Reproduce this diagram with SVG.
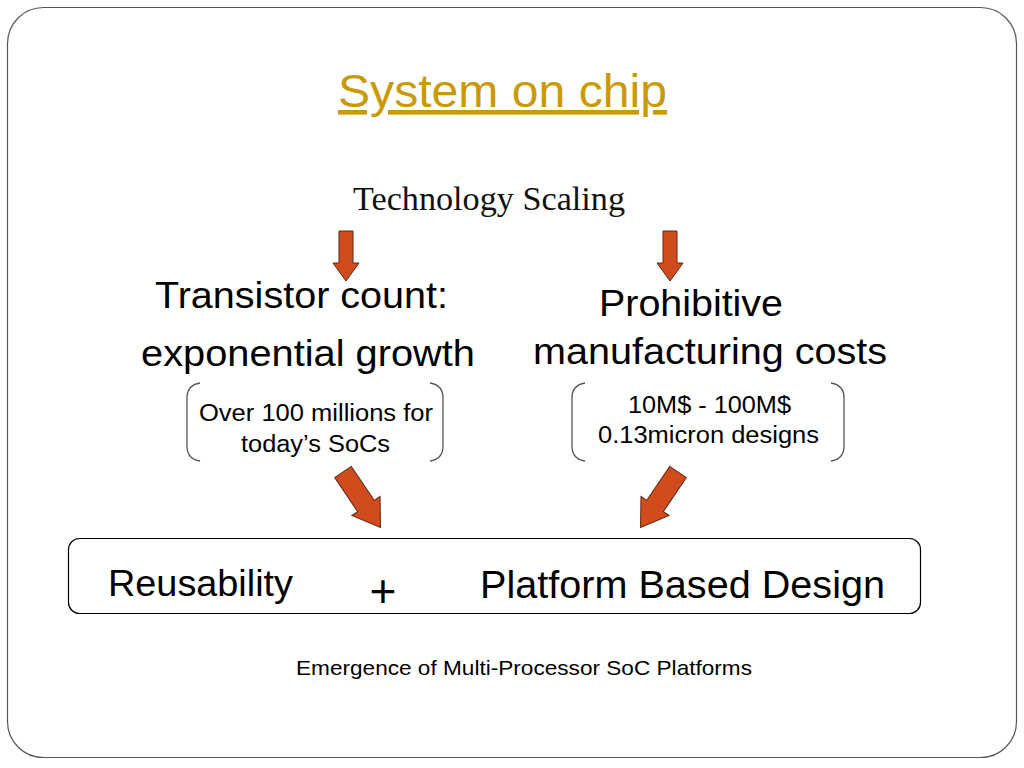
<svg xmlns="http://www.w3.org/2000/svg" width="1024" height="768" viewBox="0 0 1024 768">
<style>
.s{font-family:"Liberation Sans",Arial,sans-serif;fill:#000}
.arr{fill:#D24B1C;stroke:#5A2A12;stroke-width:1}
.br{fill:none;stroke:#555;stroke-width:1.3}
</style>
<defs>
<path id="down" d="M -7 0 H 7 V 32 H 13 L 0 50 L -13 32 H -7 Z"/>
<path id="diag" d="M -10 0 H 10 V 41 H 17 L 0 67 L -17 41 H -10 Z"/>
</defs>
<rect x="0" y="0" width="1024" height="768" fill="#fff"/>
<rect x="7.5" y="7.5" width="1009" height="750" rx="36" fill="none" stroke="#555" stroke-width="1.2"/>
<g id="title">
<text x="502.5" y="107" text-anchor="middle" font-family="Liberation Sans, Arial, sans-serif" font-size="46" fill="#C99A06" text-decoration="underline" textLength="329" lengthAdjust="spacingAndGlyphs">System on chip</text>
</g>
<g id="tech">
<text x="489" y="210" text-anchor="middle" font-family="Liberation Serif, serif" font-size="33" fill="#111" textLength="272" lengthAdjust="spacingAndGlyphs">Technology Scaling</text>
</g>
<g id="transistor">
<text class="s" x="301.5" y="308" text-anchor="middle" font-size="37" textLength="293" lengthAdjust="spacingAndGlyphs">Transistor count:</text>
<text class="s" x="308" y="366" text-anchor="middle" font-size="37" textLength="334" lengthAdjust="spacingAndGlyphs">exponential growth</text>
</g>
<g id="costs">
<text class="s" x="691" y="316" text-anchor="middle" font-size="37" textLength="184" lengthAdjust="spacingAndGlyphs">Prohibitive</text>
<text class="s" x="710" y="364" text-anchor="middle" font-size="37" textLength="354" lengthAdjust="spacingAndGlyphs">manufacturing costs</text>
</g>
<g id="millions">
<path class="br" d="M 200 383 Q 187 385 187 398 V 446 Q 187 459 200 461"/>
<path class="br" d="M 430 383 Q 443 385 443 398 V 446 Q 443 459 430 461"/>
<text class="s" x="316" y="421" text-anchor="middle" font-size="23" textLength="234" lengthAdjust="spacingAndGlyphs">Over 100 millions for</text>
<text class="s" x="315.5" y="452" text-anchor="middle" font-size="23" textLength="149" lengthAdjust="spacingAndGlyphs">today’s SoCs</text>
</g>
<g id="money">
<path class="br" d="M 585 383 Q 572 385 572 398 V 446 Q 572 459 585 461"/>
<path class="br" d="M 831 383 Q 844 385 844 398 V 446 Q 844 459 831 461"/>
<text class="s" x="709.5" y="413" text-anchor="middle" font-size="23" textLength="163" lengthAdjust="spacingAndGlyphs">10M$ - 100M$</text>
<text class="s" x="708.5" y="443" text-anchor="middle" font-size="23" textLength="221" lengthAdjust="spacingAndGlyphs">0.13micron designs</text>
</g>
<g id="platform">
<rect x="68.5" y="538.5" width="852" height="75" rx="11" fill="#fff" stroke="#000" stroke-width="1.2"/>
<text class="s" x="108" y="596" font-size="36" textLength="185" lengthAdjust="spacingAndGlyphs">Reusability</text>
<text class="s" x="383" y="607" text-anchor="middle" font-size="46">+</text>
<text class="s" x="480" y="598" font-size="38" textLength="405" lengthAdjust="spacingAndGlyphs">Platform Based Design</text>
</g>
<g id="emergence">
<text class="s" x="524" y="675" text-anchor="middle" font-size="21" textLength="456" lengthAdjust="spacingAndGlyphs">Emergence of Multi-Processor SoC Platforms</text>
</g>
<g id="connectors">
<use href="#down" class="arr" transform="translate(346,231)"/>
<use href="#down" class="arr" transform="translate(670,231)"/>
<use href="#diag" class="arr" transform="translate(343,472) rotate(-34)"/>
<use href="#diag" class="arr" transform="translate(678,472) rotate(34)"/>
</g>
</svg>
